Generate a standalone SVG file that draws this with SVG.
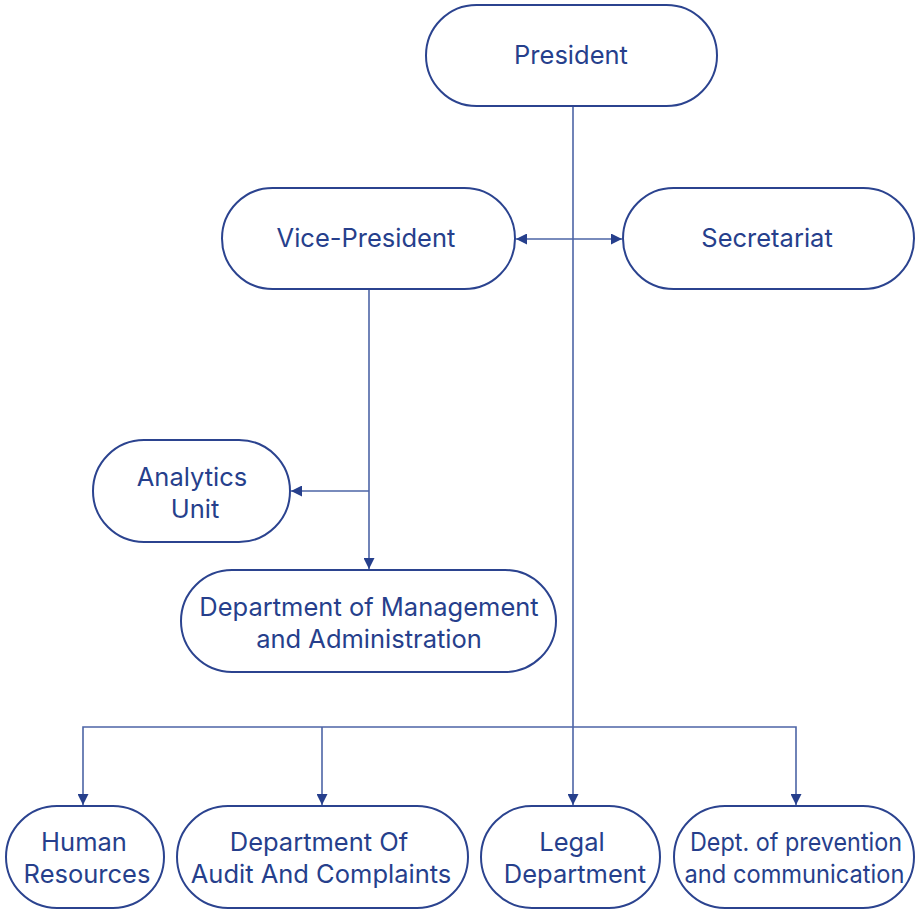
<svg xmlns="http://www.w3.org/2000/svg" width="915" height="909" viewBox="0 0 915 909">
<style>
.n{fill:#fff;stroke:#2b438f;stroke-width:2}
.t{font-family:Inter,"Noto Sans",sans-serif;font-size:25.5px;fill:#263f8c;text-anchor:middle}
.c{fill:none;stroke:#4d64a6;stroke-width:1.6}
</style>
<defs>
<marker id="a" viewBox="0 0 10 10" refX="10" refY="5" markerWidth="11" markerHeight="11" markerUnits="userSpaceOnUse" orient="auto-start-reverse">
<path d="M0,0L10,5L0,10z" fill="#263f8c"/>
</marker>
</defs>
<g id="connectors">
<path class="c" d="M573,106V805" marker-end="url(#a)"/>
<path class="c" d="M573,727H83V805" marker-end="url(#a)"/>
<path class="c" d="M322,727V805" marker-end="url(#a)"/>
<path class="c" d="M573,727H796V805" marker-end="url(#a)"/>
<path class="c" d="M516,239H622" marker-start="url(#a)" marker-end="url(#a)"/>
<path class="c" d="M369,289V569" marker-end="url(#a)"/>
<path class="c" d="M369,491H291" marker-end="url(#a)"/>
</g>
<g id="president"><rect class="n" x="426" y="5" width="291" height="101" rx="50.5"/><text class="t" x="571" y="64">President</text></g>
<g id="vice-president"><rect class="n" x="222" y="188" width="293" height="101" rx="50.5"/><text class="t" x="366" y="247">Vice-President</text></g>
<g id="secretariat"><rect class="n" x="623" y="188" width="291" height="101" rx="50.5"/><text class="t" x="767" y="247">Secretariat</text></g>
<g id="analytics"><rect class="n" x="93" y="440" width="197" height="102" rx="51"/><text class="t" x="192" y="486">Analytics</text><text class="t" x="195" y="518">Unit</text></g>
<g id="management"><rect class="n" x="181" y="570" width="375" height="102" rx="51"/><text class="t" x="369" y="616">Department of Management</text><text class="t" x="369" y="648">and Administration</text></g>
<g id="hr"><rect class="n" x="6" y="806" width="158" height="102" rx="51"/><text class="t" x="84" y="851">Human</text><text class="t" x="87" y="883">Resources</text></g>
<g id="audit"><rect class="n" x="177" y="806" width="291" height="102" rx="51"/><text class="t" x="319" y="851">Department Of</text><text class="t" x="321" y="883">Audit And Complaints</text></g>
<g id="legal"><rect class="n" x="481" y="806" width="179" height="102" rx="51"/><text class="t" x="572" y="851">Legal</text><text class="t" x="575" y="883">Department</text></g>
<g id="prevention"><rect class="n" x="674" y="806" width="240" height="102" rx="51"/><text class="t" x="796" y="851" textLength="212" lengthAdjust="spacingAndGlyphs">Dept. of prevention</text><text class="t" x="794.5" y="883" textLength="220" lengthAdjust="spacingAndGlyphs">and communication</text></g>
</svg>
